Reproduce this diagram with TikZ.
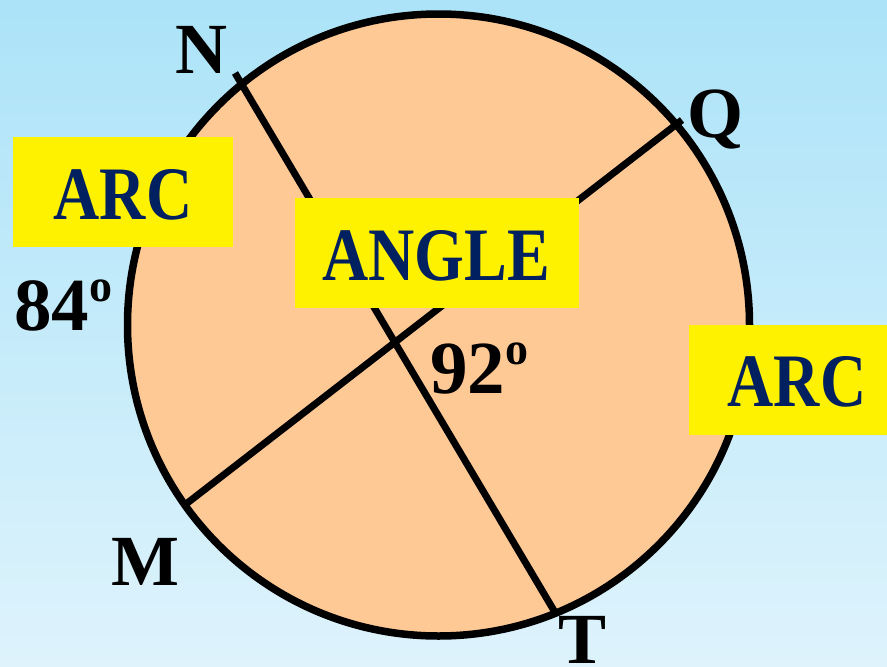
\documentclass[tikz,border=0pt]{standalone}
\usepackage{fontspec}
\setmainfont{Liberation Serif}
\usepackage{graphicx}
\definecolor{bgtop}{RGB}{172,227,248}
\definecolor{bgbot}{RGB}{222,243,252}
\definecolor{peach}{RGB}{255,201,150}
\definecolor{navy}{RGB}{0,32,96}
\begin{document}
\begin{tikzpicture}[x=1pt,y=-1pt,
  box/.style={fill=yellow, inner sep=0pt, minimum height=110pt},
  boxtext/.style={text=navy, inner sep=0pt, font=\fontsize{64}{64}\selectfont\bfseries},
  pt/.style={inner sep=0pt, anchor=base, font=\fontsize{72}{72}\selectfont\bfseries},
  deg/.style={inner sep=0pt, anchor=base west, font=\fontsize{75}{75}\selectfont\bfseries},
  chord/.style={line width=7pt}]
\useasboundingbox (0,0) rectangle (887,667);
\shade[top color=bgtop, bottom color=bgbot] (0,0) rectangle (887,667);
\node[circle, draw, fill=peach, line width=7.5pt, minimum size=622pt, inner sep=0pt] (circ) at (438.5,325) {};
\coordinate (cN) at (235,73);
\coordinate (cT) at (556,614);
\coordinate (cM) at (186,504);
\coordinate (cQ) at (682,120);
\draw[chord] (cN) -- (cT);
\draw[chord] (cM) -- (cQ);
\node[box, minimum width=220pt] (arcA) at (123,192) {};
\node[boxtext] (arcAt) at (123,195) {\scalebox{1}[1.18]{ARC}};
\node[box, minimum width=284pt] (angbox) at (437,253) {};
\node[boxtext] (angt) at (436,256) {\scalebox{1}[1.18]{ANGLE}};
\node[box, minimum width=216pt] (arcB) at (797,380) {};
\node[boxtext] (arcBt) at (797,382) {\scalebox{1}[1.18]{ARC}};
\node[pt] (lN) at (201,73) {N};
\node[pt] (lQ) at (715,137) {Q};
\node[pt] (lM) at (145,585) {M};
\node[pt] (lT) at (583,663) {T};
\node[deg] (d84) at (14,330) {84\raisebox{29pt}{\fontsize{46}{46}\selectfont o}};
\node[deg] (d92) at (430,393) {92\raisebox{29pt}{\fontsize{46}{46}\selectfont o}};
\end{tikzpicture}
\end{document}
